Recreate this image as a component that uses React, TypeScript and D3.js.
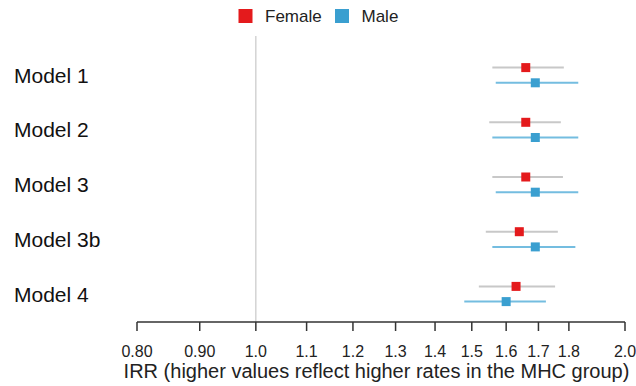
import React from "react";
import * as d3 from "d3";

const models = ["Model 1", "Model 2", "Model 3", "Model 3b", "Model 4"];
const femaleEst = [1.66, 1.66, 1.66, 1.64, 1.63];
const femaleLo = [1.559, 1.55, 1.559, 1.54, 1.52];
const femaleHi = [1.783, 1.773, 1.78, 1.763, 1.754];
const maleEst = [1.69, 1.69, 1.69, 1.69, 1.6];
const maleLo = [1.569, 1.559, 1.569, 1.559, 1.479];
const maleHi = [1.832, 1.832, 1.832, 1.822, 1.724];
const tickValues = [0.8, 0.9, 1.0, 1.1, 1.2, 1.3, 1.4, 1.5, 1.6, 1.7, 1.8, 2.0];
const tickLabels = ["0.80", "0.90", "1.0", "1.1", "1.2", "1.3", "1.4", "1.5", "1.6", "1.7", "1.8", "2.0"];

const W = 636;
const H = 386;
const RED = "#e41a1c";
const BLUE = "#3a9fd0";
const FONT = "'Liberation Sans', Arial, sans-serif";

export default function App() {
  const x = d3.scaleLog().domain([0.8, 2.0]).range([137, 625]);
  const y = d3.scalePoint<string>().domain(models).range([75.2, 294]);
  const off = 7.6;
  const axisY = 322;
  const sq = 9;

  return (
    <svg width={W} height={H} style={{ position: "absolute", left: 0, top: 0, background: "#fff" }} fontFamily={FONT}>
      {/* legend */}
      <rect x={238.5} y={9} width={14} height={14} fill={RED} />
      <text x={265} y={22} fontSize={17} fill="#222">Female</text>
      <rect x={335} y={9} width={14} height={14} fill={BLUE} />
      <text x={361.5} y={22} fontSize={17} fill="#222">Male</text>

      {/* reference line */}
      <line x1={x(1)} x2={x(1)} y1={36} y2={axisY} stroke="#c8c8c8" strokeWidth={1.2} />

      {/* model labels */}
      {models.map((m) => (
        <text key={m} x={14} y={(y(m) as number) + 7.5} fontSize={21} fill="#111">{m}</text>
      ))}

      {/* female */}
      {models.map((m, i) => {
        const cy = (y(m) as number) - off;
        return (
          <g key={"f" + m}>
            <line x1={x(femaleLo[i])} x2={x(femaleHi[i])} y1={cy} y2={cy} stroke="#c8c8c8" strokeWidth={2} />
            <rect x={x(femaleEst[i]) - sq / 2} y={cy - sq / 2} width={sq} height={sq} fill={RED} />
          </g>
        );
      })}
      {/* male */}
      {models.map((m, i) => {
        const cy = (y(m) as number) + off;
        return (
          <g key={"m" + m}>
            <line x1={x(maleLo[i])} x2={x(maleHi[i])} y1={cy} y2={cy} stroke="#74bde0" strokeWidth={2} />
            <rect x={x(maleEst[i]) - sq / 2} y={cy - sq / 2} width={sq} height={sq} fill={BLUE} />
          </g>
        );
      })}

      {/* axis */}
      <line x1={x(0.8)} x2={x(2.0)} y1={axisY} y2={axisY} stroke="#333" strokeWidth={1.5} />
      {tickValues.map((t, i) => (
        <g key={t}>
          <line x1={x(t)} x2={x(t)} y1={axisY} y2={axisY + 9} stroke="#333" strokeWidth={1.5} />
          <text x={x(t)} y={357} fontSize={16} textAnchor="middle" fill="#222">{tickLabels[i]}</text>
        </g>
      ))}
      <text x={376.5} y={378} fontSize={20} textAnchor="middle" fill="#222">
        IRR (higher values reflect higher rates in the MHC group)
      </text>
    </svg>
  );
}
